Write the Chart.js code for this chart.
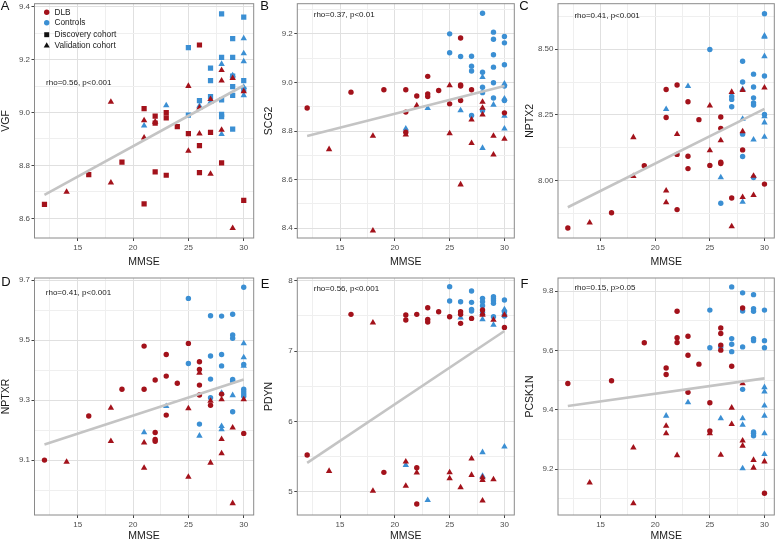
<!DOCTYPE html>
<html>
<head>
<meta charset="utf-8">
<script src="https://cdn.jsdelivr.net/npm/chart.js@4.4.1/dist/chart.umd.min.js"></script>
<style>
  html, body { margin: 0; padding: 0; background: #fff; }
  body { width: 778px; height: 540px; position: relative; overflow: hidden; }
  canvas { position: absolute; }
</style>
</head>
<body>
<canvas id="pA"></canvas>
<canvas id="pB"></canvas>
<canvas id="pC"></canvas>
<canvas id="pD"></canvas>
<canvas id="pE"></canvas>
<canvas id="pF"></canvas>
<script>
// ---- data: [MMSE, expression] ----
const vgfDlbDisc = [[12,8.653],[16,8.765],[19,8.813],[21,9.015],[21,8.655],[22,8.986],[22,8.96],[22,8.776],[23,9.0],[23,8.98],[23,8.763],[24,8.947],[25,8.92],[26,9.255],[26,8.875],[26,8.773],[27,8.925],[28,8.81],[30,8.668]];
const vgfDlbVal = [[14,8.70],[18,9.04],[18,8.735],[21,8.97],[21,8.905],[22,8.965],[25,9.10],[25,8.855],[26,9.018],[26,8.92],[27,9.05],[27,8.768],[28,9.16],[28,9.12],[28,8.934],[29,9.13],[29,8.563],[30,9.08]];
const vgfCtrlDisc = [[25,9.245],[25,8.99],[26,9.045],[27,9.168],[27,9.12],[27,9.06],[28,9.373],[28,9.208],[28,9.048],[28,8.993],[28,8.984],[29,9.279],[29,9.208],[29,9.137],[29,9.098],[29,9.065],[29,8.937],[30,9.36],[30,9.12],[30,9.087]];
const vgfCtrlVal = [[21,8.95],[23,9.027],[26,9.025],[27,9.04],[28,9.183],[28,8.918],[29,9.14],[30,9.28],[30,9.223],[30,9.193],[30,9.096],[30,9.065]];
const vgfFit = [[12,8.689],[30,9.102]];

const scg2DlbDisc = [[12,8.895],[16,8.96],[19,8.97],[21,8.97],[21,8.878],[21,8.795],[22,8.944],[23,9.025],[23,8.953],[23,8.942],[24,8.967],[25,8.912],[26,9.183],[26,8.99],[26,8.985],[26,8.926],[27,8.97],[30,8.875]];
const scg2DlbVal = [[14,8.725],[18,8.78],[18,8.39],[21,8.785],[22,8.905],[25,8.988],[25,8.79],[26,8.58],[27,8.847],[27,8.75],[28,8.92],[28,8.895],[28,8.867],[29,8.78],[29,8.703],[30,8.768]];
const scg2CtrlDisc = [[25,9.2],[25,9.122],[26,9.107],[27,9.108],[27,9.067],[27,9.047],[27,8.864],[28,9.285],[28,9.042],[28,8.98],[28,8.958],[28,8.885],[29,9.207],[29,9.178],[29,9.114],[29,9.063],[29,8.999],[29,8.936],[30,9.189],[30,9.163],[30,9.073],[30,8.985],[30,8.926]];
const scg2CtrlVal = [[21,8.81],[23,8.894],[26,8.885],[28,9.022],[28,8.73],[29,8.908],[30,8.995],[30,8.933],[30,8.862],[30,8.81]];
const scg2Fit = [[12,8.78],[30,8.985]];

const nptx2DlbDisc = [[12,7.82],[16,7.878],[19,8.057],[21,8.347],[21,8.24],[22,8.364],[22,8.10],[22,7.89],[23,8.30],[23,8.093],[23,8.046],[24,8.232],[25,8.058],[26,8.242],[26,8.199],[26,8.07],[26,8.065],[27,7.934],[28,8.117],[30,7.987]];
const nptx2DlbVal = [[14,7.84],[18,8.165],[18,8.017],[21,7.962],[21,7.917],[22,8.177],[25,8.285],[25,8.115],[26,8.153],[27,8.337],[27,7.826],[28,8.344],[28,8.187],[28,7.937],[29,8.018],[29,7.945],[30,8.354]];
const nptx2CtrlDisc = [[25,8.499],[26,7.914],[27,8.32],[27,8.309],[27,8.281],[28,8.454],[28,8.375],[28,8.177],[28,8.092],[29,8.405],[29,8.356],[29,8.315],[29,8.296],[29,8.288],[29,8.012],[30,8.635],[30,8.398],[30,8.252]];
const nptx2CtrlVal = [[21,8.272],[23,8.359],[26,8.012],[28,8.348],[28,8.235],[28,7.919],[29,8.156],[30,8.551],[30,8.547],[30,8.473],[30,8.244],[30,8.221],[30,8.166]];
const nptx2Fit = [[12,7.899],[30,8.273]];

const nptxrDlbDisc = [[12,9.10],[16,9.247],[19,9.336],[21,9.48],[21,9.336],[22,9.367],[22,9.192],[22,9.169],[22,9.163],[23,9.452],[23,9.38],[23,9.25],[24,9.356],[25,9.489],[26,9.428],[26,9.402],[26,9.35],[26,9.317],[27,9.283],[28,9.32],[30,9.189]];
const nptxrDlbVal = [[14,9.094],[18,9.274],[18,9.163],[21,9.158],[21,9.074],[25,9.272],[25,9.044],[26,9.391],[27,9.297],[27,9.091],[28,9.302],[28,9.17],[28,9.122],[29,9.208],[29,8.956],[30,9.302]];
const nptxrCtrlDisc = [[25,9.639],[25,9.422],[26,9.22],[27,9.581],[27,9.447],[27,9.37],[27,9.308],[28,9.58],[28,9.452],[28,9.414],[29,9.586],[29,9.517],[29,9.506],[29,9.369],[29,9.363],[29,9.261],[30,9.676],[30,9.419],[30,9.336],[30,9.328],[30,9.32],[30,9.313]];
const nptxrCtrlVal = [[21,9.192],[23,9.28],[26,9.181],[28,9.324],[28,9.213],[28,9.202],[29,9.316],[30,9.489],[30,9.442],[30,9.414]];
const nptxrFit = [[12,9.152],[30,9.369]];

const pdynDlbDisc = [[12,5.521],[16,7.521],[19,5.275],[21,7.512],[21,7.441],[22,7.521],[22,5.341],[22,4.825],[23,7.616],[23,7.45],[23,7.412],[24,7.559],[25,7.488],[26,7.559],[26,7.521],[26,7.393],[27,7.464],[28,7.583],[30,7.336]];
const pdynDlbVal = [[14,5.294],[18,7.403],[18,5.01],[21,5.427],[21,5.081],[22,5.27],[25,5.275],[25,5.19],[26,5.062],[27,5.469],[27,5.237],[28,7.535],[28,7.512],[28,5.204],[28,5.166],[28,4.872],[29,7.441],[29,5.175],[30,7.512]];
const pdynCtrlDisc = [[25,7.915],[25,7.711],[26,7.701],[27,7.853],[27,7.692],[27,7.592],[27,7.569],[28,7.749],[28,7.701],[28,7.645],[28,7.55],[29,7.773],[29,7.744],[29,7.716],[29,7.678],[29,7.488],[30,7.725],[30,7.559],[30,7.498]];
const pdynCtrlVal = [[21,5.379],[23,4.88],[26,7.474],[28,7.45],[28,5.56],[28,5.223],[29,7.37],[30,7.592],[30,7.535],[30,5.64]];
const pdynFit = [[12,5.41],[30,7.284]];

const pcsk1nDlbDisc = [[12,9.489],[16,9.498],[19,9.626],[21,9.541],[21,9.519],[22,9.732],[22,9.643],[22,9.627],[23,9.648],[23,9.584],[23,9.459],[24,9.554],[25,9.424],[25,9.329],[26,9.676],[26,9.657],[26,9.618],[26,9.601],[27,9.547],[28,9.743],[30,9.119]];
const pcsk1nDlbVal = [[14,9.155],[18,9.273],[18,9.085],[21,9.346],[21,9.321],[22,9.247],[25,9.321],[26,9.248],[27,9.407],[27,9.352],[28,9.489],[28,9.296],[28,9.279],[29,9.231],[29,9.205],[30,9.226]];
const pcsk1nCtrlDisc = [[25,9.736],[25,9.609],[26,9.612],[27,9.814],[27,9.64],[27,9.621],[27,9.596],[28,9.794],[28,9.733],[28,9.612],[28,9.469],[29,9.788],[29,9.741],[29,9.732],[29,9.64],[29,9.633],[29,9.326],[29,9.321],[29,9.313],[30,9.736],[30,9.633],[30,9.609]];
const pcsk1nCtrlVal = [[21,9.38],[23,9.425],[26,9.371],[28,9.371],[28,9.349],[28,9.203],[30,9.476],[30,9.461],[30,9.414],[30,9.38],[30,9.321],[30,9.251]];
const pcsk1nFit = [[12,9.413],[30,9.506]];

// ---- ticks ----
const mmseTicks = [15, 20, 25, 30];
const mmseMinor = [12.5, 17.5, 22.5, 27.5];
const vgfTicks = [8.6, 8.8, 9.0, 9.2, 9.4];   const vgfMinor = [8.7, 8.9, 9.1, 9.3];
const scg2Ticks = [8.4, 8.6, 8.8, 9.0, 9.2];  const scg2Minor = [8.5, 8.7, 8.9, 9.1, 9.3];
const nptx2Ticks = [8.00, 8.25, 8.50];        const nptx2Minor = [7.875, 8.125, 8.375, 8.625];
const nptxrTicks = [9.1, 9.3, 9.5, 9.7];      const nptxrMinor = [9.0, 9.2, 9.4, 9.6];
const pdynTicks = [5, 6, 7, 8];               const pdynMinor = [5.5, 6.5, 7.5];
const pcsk1nTicks = [9.2, 9.4, 9.6, 9.8];     const pcsk1nMinor = [9.1, 9.3, 9.5, 9.7];

const groupLabels = ['DLB', 'Controls'];
const cohortLabels = ['Discovery cohort', 'Validation cohort'];

// ---- look ----
const RED = '#a3121b';
const BLUE = '#3b8fd3';
const SANS = "'Liberation Sans', Arial, sans-serif";
const NARROW = "'Liberation Sans Narrow', 'Liberation Sans', sans-serif";

Chart.defaults.animation = false;
Chart.defaults.font.family = SANS;

const panels = [
  { id: 'pA', letter: 'A', gene: 'VGF', rho: 'rho=0.56, p<0.001', rhoAt: [12.15, 9.112],
    sets: [vgfDlbDisc, vgfDlbVal, vgfCtrlDisc, vgfCtrlVal], fit: vgfFit,
    yMajor: vgfTicks, yMinor: vgfMinor, yMin: 8.526, yMax: 9.411, digits: 1, disc: 'rect',
    box: [0, 0, 259, 268], area: [34.5, 1, 253.7, 238], tPad: 0, letterAt: [5, 6], legend: true },
  { id: 'pB', letter: 'B', gene: 'SCG2', rho: 'rho=0.37, p<0.01', rhoAt: [12.6, 9.28],
    sets: [scg2DlbDisc, scg2DlbVal, scg2CtrlDisc, scg2CtrlVal], fit: scg2Fit,
    yMajor: scg2Ticks, yMinor: scg2Minor, yMin: 8.36, yMax: 9.324, digits: 1, disc: 'circle',
    box: [259, 0, 259, 268], area: [297.3, 2, 514.9, 238], tPad: 3.5, letterAt: [264.5, 6] },
  { id: 'pC', letter: 'C', gene: 'NPTX2', rho: 'rho=0.41, p<0.001', rhoAt: [12.6, 8.626],
    sets: [nptx2DlbDisc, nptx2DlbVal, nptx2CtrlDisc, nptx2CtrlVal], fit: nptx2Fit,
    yMajor: nptx2Ticks, yMinor: nptx2Minor, yMin: 7.782, yMax: 8.673, digits: 2, disc: 'circle',
    box: [518, 0, 260, 268], area: [558, 1, 777, 238], tPad: 5.5, letterAt: [524, 6] },
  { id: 'pD', letter: 'D', gene: 'NPTXR', rho: 'rho=0.41, p<0.001', rhoAt: [12.12, 9.658],
    sets: [nptxrDlbDisc, nptxrDlbVal, nptxrCtrlDisc, nptxrCtrlVal], fit: nptxrFit,
    yMajor: nptxrTicks, yMinor: nptxrMinor, yMin: 8.917, yMax: 9.707, digits: 1, disc: 'circle',
    box: [0, 270, 259, 272], area: [34.5, 278, 253.7, 515], tPad: 0, letterAt: [6, 282] },
  { id: 'pE', letter: 'E', gene: 'PDYN', rho: 'rho=0.56, p<0.001', rhoAt: [12.6, 7.89],
    sets: [pdynDlbDisc, pdynDlbVal, pdynCtrlDisc, pdynCtrlVal], fit: pdynFit,
    yMajor: pdynTicks, yMinor: pdynMinor, yMin: 4.669, yMax: 8.038, digits: 0, disc: 'circle',
    box: [259, 270, 259, 272], area: [297.3, 278, 514.9, 515], tPad: 3.5, letterAt: [265, 284] },
  { id: 'pF', letter: 'F', gene: 'PCSK1N', rho: 'rho=0.15, p>0.05', rhoAt: [12.6, 9.812],
    sets: [pcsk1nDlbDisc, pcsk1nDlbVal, pcsk1nCtrlDisc, pcsk1nCtrlVal], fit: pcsk1nFit,
    yMajor: pcsk1nTicks, yMinor: pcsk1nMinor, yMin: 9.046, yMax: 9.844, digits: 1, disc: 'circle',
    box: [518, 270, 260, 272], area: [558, 278, 777, 515], tPad: 5.5, letterAt: [524.5, 284] }
];

const has = (list, v) => list.some(t => Math.abs(t - v) < 1e-6);
const allTicks = (a, b) => [...a, ...b].sort((p, q) => p - q).map(v => ({ value: v }));
const gridCol = list => c => (c.tick && has(list, c.tick.value)) ? '#e0e0e0' : '#efefef';
const tickCol = list => c => (c.tick && has(list, c.tick.value)) ? '#444' : 'rgba(0,0,0,0)';
const pts = arr => arr.map(([x, y]) => ({ x, y }));

function marks(data, color, style) {
  const r = style === 'circle' ? 2.7 : 3.7;
  return { data: pts(data), pointStyle: style, pointRadius: r, pointHoverRadius: r,
           backgroundColor: color, borderColor: color, pointBorderWidth: 0 };
}

// frame, panel letter, rho text, legend
const decor = {
  id: 'decor',
  afterDraw(chart, args, o) {
    const { ctx, chartArea: a, scales } = chart;
    const [bl, bt] = o.box;
    ctx.save();
    ctx.strokeStyle = '#8a8a8a';
    ctx.lineWidth = 1;
    ctx.strokeRect(a.left, a.top, a.right - a.left, a.bottom - a.top);

    ctx.fillStyle = '#111';
    ctx.font = '13px ' + SANS;
    ctx.textBaseline = 'middle';
    ctx.textAlign = 'center';
    ctx.fillText(o.letter, o.letterAt[0] - bl, o.letterAt[1] - bt);

    ctx.font = '8px ' + SANS;
    ctx.textAlign = 'left';
    ctx.fillStyle = '#1a1a1a';
    ctx.fillText(o.rho, scales.x.getPixelForValue(o.rhoAt[0]), scales.y.getPixelForValue(o.rhoAt[1]));

    if (o.legend) {
      const items = [
        { label: groupLabels[0], color: RED, style: 'circle' },
        { label: groupLabels[1], color: BLUE, style: 'circle' },
        { label: cohortLabels[0], color: '#111', style: 'rect' },
        { label: cohortLabels[1], color: '#111', style: 'triangle' }
      ];
      const rows = [12.3, 22.7, 34.7, 45.7];
      items.forEach((it, i) => {
        ctx.fillStyle = it.color;
        ctx.strokeStyle = it.color;
        Chart.helpers.drawPoint(ctx, { pointStyle: it.style, radius: it.style === 'circle' ? 2.7 : 3.5, rotation: 0, borderWidth: 0 }, 46.7 - bl, rows[i] - bt);
        ctx.fillStyle = '#1a1a1a';
        ctx.font = '8.3px ' + SANS;
        ctx.fillText(it.label, 54.5 - bl, rows[i] - bt);
      });
    }
    ctx.restore();
  }
};

panels.forEach(p => {
  const cv = document.getElementById(p.id);
  const [bl, bt, bw, bh] = p.box;
  const [al, at, ar, ab] = p.area;
  cv.width = bw; cv.height = bh;
  cv.style.left = bl + 'px'; cv.style.top = bt + 'px';
  cv.style.width = bw + 'px'; cv.style.height = bh + 'px';
  const yW = al - bl, padR = bl + bw - ar, padT = at - bt, xH = bt + bh - ab;

  new Chart(cv, {
    type: 'scatter',
    data: {
      datasets: [
        { type: 'line', data: pts(p.fit), borderColor: '#c4c4c4', borderWidth: 2.6,
          pointRadius: 0, fill: false, order: -1 },
        marks(p.sets[0], RED, p.disc),
        marks(p.sets[1], RED, 'triangle'),
        marks(p.sets[2], BLUE, p.disc),
        marks(p.sets[3], BLUE, 'triangle')
      ]
    },
    options: {
      responsive: false,
      devicePixelRatio: 1,
      layout: { padding: { left: 0, top: padT, right: padR, bottom: 0 } },
      plugins: {
        legend: { display: false },
        tooltip: { enabled: false },
        decor: { box: p.box, letter: p.letter, letterAt: p.letterAt, rho: p.rho, rhoAt: p.rhoAt, legend: !!p.legend }
      },
      scales: {
        x: {
          type: 'linear', min: 11.1, max: 30.9,
          afterBuildTicks: s => { s.ticks = allTicks(mmseTicks, mmseMinor); },
          afterFit: s => { s.height = xH; s.paddingLeft = 0; s.paddingRight = 0; },
          ticks: { callback: v => has(mmseTicks, v) ? String(v) : '', autoSkip: false, maxRotation: 0,
                   color: '#4d4d4d', font: { size: 8, family: SANS }, padding: 2 },
          grid: { color: gridCol(mmseTicks), lineWidth: 1, tickLength: 3, tickColor: tickCol(mmseTicks), tickWidth: 1 },
          border: { display: false },
          title: { display: true, text: 'MMSE', color: '#1a1a1a',
                   font: { size: 10.5, family: NARROW, lineHeight: 1.2 }, padding: { top: 0, bottom: 0 } }
        },
        y: {
          type: 'linear', min: p.yMin, max: p.yMax,
          afterBuildTicks: s => { s.ticks = allTicks(p.yMajor, p.yMinor); },
          afterFit: s => { s.width = yW; s.paddingTop = 0; s.paddingBottom = 0; },
          ticks: { callback: v => has(p.yMajor, v) ? v.toFixed(p.digits) : '', autoSkip: false,
                   color: '#4d4d4d', font: { size: 8, family: SANS }, padding: 1.5 },
          grid: { color: gridCol(p.yMajor), lineWidth: 1, tickLength: 3, tickColor: tickCol(p.yMajor), tickWidth: 1 },
          border: { display: false },
          title: { display: true, text: p.gene, color: '#1a1a1a',
                   font: { size: 10.5, family: NARROW, lineHeight: 1.2 }, padding: { top: p.tPad, bottom: 0 } }
        }
      }
    },
    plugins: [decor]
  });
});
</script>
</body>
</html>
